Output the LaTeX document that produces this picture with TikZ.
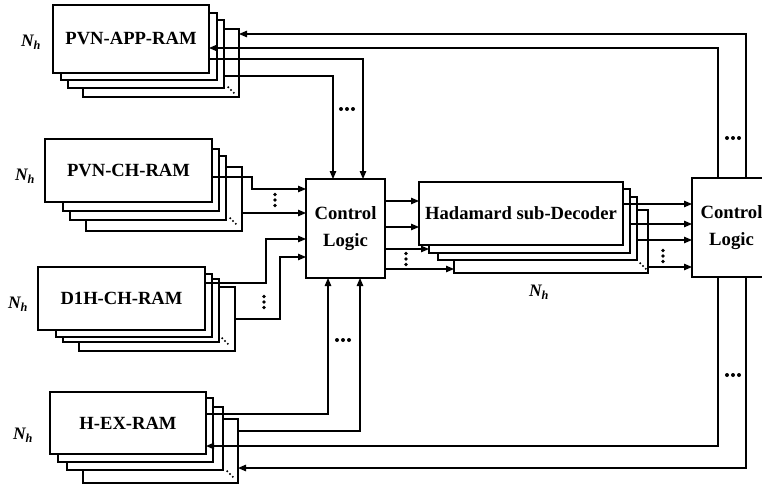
\documentclass[tikz,border=0pt]{standalone}
\usepackage{fontspec}
\setmainfont{Liberation Serif}
\usetikzlibrary{arrows.meta}
\newcommand\layer[6]{\node[layerbox,minimum width={(#4-#2)*1pt},minimum height={(#5-#3)*1pt}] (#1) at ({(#2+#4)/2},{(#3+#5)/2}) {#6};}
\newcommand\hdotsat[2]{\foreach \k in {-6,0,6}{\fill ({#1+\k},#2) circle (2pt);}}
\newcommand\vdotsat[2]{\foreach \k in {-5.5,0,5.5}{\fill (#1,{#2+\k}) circle (1.8pt);}}
\newcommand\ddotsat[2]{\foreach \k in {-2.8,0,2.8}{\fill ({#1+\k},{#2+\k}) circle (1.1pt);}}
\tikzset{
  layerbox/.style={draw, fill=white, line width=1.2pt, rectangle, inner sep=0pt, outer sep=0pt,
    font=\fontsize{18.6}{22}\selectfont\bfseries},
  ctrl/.style={layerbox, align=center, font=\fontsize{18.7}{27}\selectfont\bfseries},
  arr/.style={line width=1.2pt, -{Triangle[length=8pt,width=6.5pt]}},
  nlabel/.style={font=\fontsize{17.5}{20}\selectfont\bfseries\itshape, inner sep=0pt},
}
\begin{document}
\begin{tikzpicture}[x=1pt,y=-1pt]
\useasboundingbox (0,0) rectangle (762,487);
\clip (0,0) rectangle (762,487);

% PVN-APP-RAM stack
\layer{a4}{83}{29}{239}{97}{}
\layer{a3}{68}{20}{224}{88}{}
\layer{a2}{61}{13}{217}{80}{}
\layer{a1}{53}{5}{209}{73}{PVN-APP-RAM}
\ddotsat{231}{90}

% PVN-CH-RAM stack
\layer{c4}{86}{167}{242}{231}{}
\layer{c3}{70}{156}{226}{220}{}
\layer{c2}{63}{149}{219}{211}{}
\layer{c1}{45}{139}{212}{202}{PVN-CH-RAM}
\ddotsat{233}{221}

% D1H-CH-RAM stack
\layer{d4}{79}{287}{235}{351}{}
\layer{d3}{63}{279}{219}{342}{}
\layer{d2}{56}{274}{212}{337}{}
\layer{d1}{38}{267}{205}{330}{D1H-CH-RAM}
\ddotsat{225}{341}

% H-EX-RAM stack
\layer{h4}{83}{419}{238}{483}{}
\layer{h3}{67}{407}{223}{470}{}
\layer{h2}{58}{398}{213}{462}{}
\layer{h1}{50}{392}{206}{454}{H-EX-RAM}
\ddotsat{230}{474}

% Hadamard sub-Decoder stack
\layer{s4}{454}{210}{648}{273}{}
\layer{s3}{438}{197}{637}{260}{}
\layer{s2}{429}{189}{630}{253}{}
\layer{s1}{419}{182}{623}{245}{Hadamard sub-Decoder}
\ddotsat{643}{266}

% Control logic blocks
\node[ctrl, minimum width=79pt, minimum height=99pt] (cl1) at (345.5,228.5) {Control\\Logic};
\node[ctrl, minimum width=79pt, minimum height=99pt] (cl2) at (731.5,227.5) {Control\\Logic};

% N_h labels
\node[nlabel] (n1) at (31,42) {N\textsubscript{h}};
\node[nlabel] (n2) at (25,176) {N\textsubscript{h}};
\node[nlabel] (n3) at (18,304) {N\textsubscript{h}};
\node[nlabel] (n4) at (23,435) {N\textsubscript{h}};
\node[nlabel] (n5) at (539,292) {N\textsubscript{h}};

% PVN-APP-RAM wiring
\draw[arr] (cl2.north -| 746,0) |- (a4.east |- 0,34);
\draw[arr] (cl2.north -| 718,0) |- (a1.east |- 0,48);
\draw[arr] (a1.east |- 0,59) -| (cl1.north -| 363,0);
\draw[arr] (a3.east |- 0,76) -| (cl1.north -| 333,0);
\hdotsat{347}{109}
\hdotsat{733}{138}

% PVN-CH-RAM wiring
\draw[arr] (c1.east |- 0,177) -| (252,189) -- (cl1.west |- 0,189);
\draw[arr] (c4.east |- 0,213) -- (cl1.west |- 0,213);
\vdotsat{275}{200}

% D1H-CH-RAM wiring
\draw[arr] (d1.east |- 0,283) -| (266,239) -- (cl1.west |- 0,239);
\draw[arr] (d4.east |- 0,319) -| (280,257) -- (cl1.west |- 0,257);
\vdotsat{264}{302}

% H-EX-RAM wiring
\draw[arr] (h1.east |- 0,414) -| (cl1.south -| 328,0);
\draw[arr] (h4.east |- 0,431) -| (cl1.south -| 360,0);
\hdotsat{343}{340}
\draw[arr] (cl2.south -| 718,0) |- (h1.east |- 0,446);
\draw[arr] (cl2.south -| 746,0) |- (h4.east |- 0,468);
\hdotsat{733}{375}

% Control Logic -> Hadamard
\draw[arr] (cl1.east |- 0,201) -- (s1.west |- 0,201);
\draw[arr] (cl1.east |- 0,227) -- (s1.west |- 0,227);
\draw[arr] (cl1.east |- 0,249) -- (s2.west |- 0,249);
\draw[arr] (cl1.east |- 0,269) -- (s4.west |- 0,269);
\vdotsat{406}{259}

% Hadamard -> Control Logic
\draw[arr] (s1.east |- 0,204) -- (cl2.west |- 0,204);
\draw[arr] (s2.east |- 0,224) -- (cl2.west |- 0,224);
\draw[arr] (s3.east |- 0,240) -- (cl2.west |- 0,240);
\draw[arr] (s4.east |- 0,267) -- (cl2.west |- 0,267);
\vdotsat{663}{256}
\end{tikzpicture}
\end{document}
